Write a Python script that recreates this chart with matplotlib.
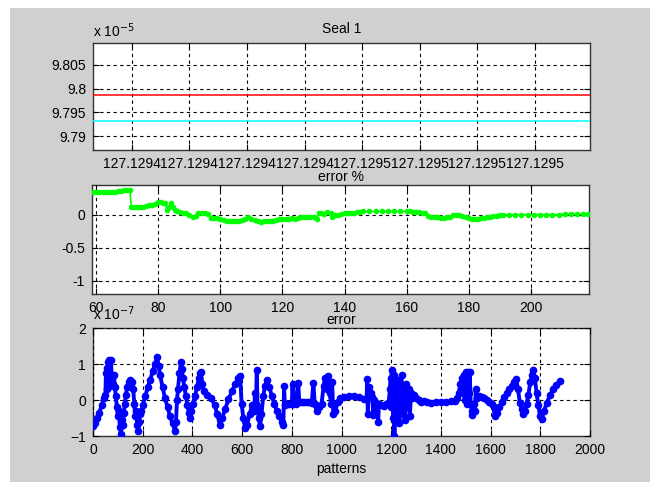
import matplotlib
matplotlib.use("Agg")
import matplotlib.pyplot as plt
from matplotlib.patches import Rectangle
from matplotlib.ticker import FixedLocator, FixedFormatter

plt.rcParams["font.family"] = ["Liberation Sans", "DejaVu Sans"]
plt.rcParams["font.size"] = 10

# --- data -------------------------------------------------------------
# top panel (values in units of 1e-5)
seal_levels = [9.7986, 9.7931]
seal_colors = ["red", "cyan"]
seal_xticks = [127.12941, 127.12942, 127.12943, 127.12944,
               127.12945, 127.12946, 127.12947, 127.12948]
seal_xlabels = ["127.1294", "127.1294", "127.1294", "127.1294",
                "127.1295", "127.1295", "127.1295", "127.1295"]
seal_yticks = [9.79, 9.795, 9.8, 9.805]
seal_ylabels = ["9.79", "9.795", "9.8", "9.805"]

# middle panel: error %
pct_x = [58.8, 60, 61, 62, 63, 64, 65, 66, 67, 68, 69, 70, 70.8,
         71.3, 72, 73, 74, 75, 76, 77, 78, 79, 80, 80.8, 81.6, 82.2,
         82.8, 83.4, 84, 84.6, 85.2, 86, 87, 88, 89, 90, 91, 92, 92.8,
         94, 95, 96, 97, 98, 99, 100, 101, 102, 103, 104, 105, 106,
         107, 108, 109, 110, 111, 112, 113, 114, 115, 116, 117, 118,
         119, 120, 121, 122, 123, 124, 125, 126, 127, 128, 129, 130,
         131, 131.8, 132.5, 133.5, 134.5, 135.5, 136, 137, 138, 139,
         140, 141, 142, 143, 144, 145, 146, 148, 150, 152, 154, 156,
         158, 160, 161, 162, 163, 164, 165, 166, 167, 168, 169, 170,
         171, 172, 173, 174, 175, 176, 177, 178, 179, 180, 181, 182,
         183, 184, 185, 186, 187, 188, 189, 190, 191, 193, 195, 197,
         199, 201, 203, 205, 207, 209, 211, 213, 215, 217, 218.5]
pct_y = [0.35, 0.35, 0.35, 0.35, 0.35, 0.35, 0.35, 0.35, 0.355, 0.36,
         0.37, 0.37, 0.37,
         0.11, 0.11, 0.11, 0.11, 0.115, 0.13, 0.14, 0.15, 0.16, 0.2,
         0.19, 0.18, 0.17,
         0.07, 0.11, 0.18, 0.12, 0.07, 0.05, 0.04, 0.03, 0.02, 0.0,
         -0.03, -0.02, 0.03,
         0.03, 0.03, 0.01, -0.05, -0.05, -0.05, -0.07, -0.08, -0.09,
         -0.1, -0.1, -0.09, -0.09,
         -0.08, -0.07, -0.03, -0.06, -0.08, -0.09, -0.11, -0.09, -0.1,
         -0.09, -0.09, -0.08,
         -0.07, -0.07, -0.06, -0.06, -0.05, -0.06, -0.05, -0.04, -0.04,
         -0.03, -0.03, -0.04,
         -0.06, 0.03, 0.02, 0.01, 0.04, 0.03, -0.04, -0.01, 0.0, 0.01,
         0.02, 0.02, 0.03, 0.03, 0.04, 0.04, 0.05, 0.05, 0.05, 0.05,
         0.05, 0.05,
         0.05, 0.05, 0.06, 0.04, 0.04, 0.04, 0.03, 0.03, -0.02, -0.03,
         -0.03, -0.04,
         -0.05, -0.05, -0.04, -0.03, -0.01, 0.0, -0.01, -0.02, -0.04,
         -0.05, -0.06, -0.06,
         -0.06, -0.05, -0.05, -0.04, -0.03, -0.02, -0.02, -0.01, 0.0,
         0.0, 0.0, 0.0,
         0.0, 0.0, 0.0, 0.0, 0.0, 0.0, 0.01, 0.01, 0.01, 0.01, 0.01]

# bottom panel: error (values in units of 1e-7)
pattern_idx = [0, 8, 16, 25, 35, 45, 50, 52, 55, 58, 62, 66, 68, 72, 76,
               80, 84, 88, 92, 96, 100, 104, 108, 112, 116, 120, 124,
               128, 132, 138, 144, 150, 156, 162, 166, 170, 174, 178,
               182, 186, 190, 195, 200, 210, 220, 230, 240, 250, 258,
               264, 270, 280, 290, 300, 310, 320, 330, 334, 338, 342,
               348, 354, 358, 362, 368, 374, 380, 386, 392, 396, 402,
               410, 418, 426, 430, 434, 440, 445, 460, 475, 490, 500,
               511, 520, 532, 545, 560, 572, 585, 592, 598, 605, 612,
               620, 630, 640, 648, 652, 656, 659, 662, 667, 672, 678,
               685, 692, 700, 710, 720, 730, 740, 750, 760, 766, 769,
               772, 780, 790, 800, 803, 806, 815, 826, 830, 840, 850,
               860, 870, 880, 887, 892, 900, 910, 920, 928, 934, 940,
               947, 952, 958, 962, 967, 975, 985, 995, 1010, 1030, 1050,
               1070, 1090, 1101, 1103, 1106, 1110, 1118, 1124, 1128,
               1132, 1140, 1148, 1150, 1160, 1170, 1180, 1190, 1195,
               1198, 1200, 1202, 1205, 1208, 1210, 1213, 1216, 1220,
               1224, 1228, 1233, 1236, 1242, 1246, 1250, 1256, 1260,
               1265, 1270, 1275, 1280, 1285, 1290, 1300, 1310, 1320,
               1330, 1343, 1360, 1380, 1400, 1420, 1440, 1455, 1465,
               1472, 1478, 1484, 1488, 1492, 1496, 1500, 1504, 1508,
               1512, 1516, 1520, 1524, 1527, 1532, 1536, 1541, 1545,
               1555, 1565, 1575, 1585, 1595, 1605, 1612, 1616, 1625,
               1635, 1645, 1655, 1665, 1675, 1685, 1695, 1703, 1710,
               1718, 1725, 1732, 1738, 1745, 1752, 1760, 1766, 1772,
               1778, 1785, 1792, 1799, 1806, 1815, 1826, 1840, 1852,
               1865, 1879]
pattern_err = [-0.72, -0.65, -0.5, -0.35, -0.15, 0.05, 0.15, 0.75, 0.3,
               0.9, 1.05, 1.1, 0.4, 1.1, 0.6,
               0.45, 0.7, 0.35, 0.1, -0.2, -0.45, -0.3, -0.75, -0.95,
               -0.55, -0.7, -0.35,
               -0.1, 0.15, 0.35, 0.5, 0.55, 0.5, 0.3, -0.1, -0.45, -0.3,
               -0.7,
               -0.85, -0.6, -0.4, -0.3, -0.15, 0.1, 0.35, 0.55, 0.8, 1.0,
               1.2,
               0.95, 0.7, 0.35, 0.05, -0.2, -0.45, -0.65, -0.85, -0.6,
               0.0, 0.3,
               0.75, 1.05, 0.85, 0.6, 0.35, 0.1, -0.15, -0.35, -0.5,
               -0.3, -0.1,
               0.1, 0.35, 0.6, 0.75, 0.78, 0.45, 0.25, 0.15, 0.05, -0.15,
               -0.4,
               -0.7, -0.5, -0.25, 0.02, 0.25, 0.45, 0.6, 0.68, -0.1,
               -0.5, -0.78,
               -0.7, -0.4, -0.15, -0.3, 0.2, -0.1, 0.82, -0.2, -0.5,
               -0.73, -0.4,
               0.1, 0.4, 0.55, 0.35, 0.1, -0.1, -0.3, -0.45, -0.62, -0.7,
               0.4,
               -0.15, -0.12, -0.1, -0.12, 0.45, -0.1, -0.1, 0.48, -0.05,
               -0.05, -0.05,
               -0.05, -0.05, -0.08, 0.48, -0.1, -0.3, -0.2, -0.1, 0.4,
               0.62, 0.3,
               0.68, 0.2, -0.1, 0.5, -0.4, -0.3, -0.05, 0.05, 0.08, 0.1,
               0.1,
               0.08, 0.03, 0.02, 0.58, -0.38, 0.35, 0.2, 0.08, -0.42,
               0.0, -0.08, -0.6, -0.1, -0.15, -0.17, -0.12, -0.05, 0.3,
               0.6, -0.2, 0.82, 0.1, -0.5, 0.7, -1.0, 0.3, -0.6,
               0.2, 0.55, -0.65, 0.35, 0.7, -0.4, 0.3, -0.55, 0.45,
               -0.2, 0.3, -0.45, 0.2, 0.05, 0.15, 0.05, 0.0, -0.05,
               -0.03, -0.06, -0.08, -0.05, -0.05, -0.05, -0.03, -0.02,
               0.05,
               0.2, 0.45, 0.6, 0.2, 0.7, 0.0, 0.78, -0.1, 0.78,
               0.2, 0.78, -0.1, -0.3, -0.42, -0.1, -0.3, 0.3, 0.05,
               0.1, 0.08, 0.05, 0.0, -0.05, -0.12, -0.2, -0.45, -0.35,
               -0.2, -0.05, 0.08, 0.2, 0.3, 0.4, 0.5, 0.59, 0.3,
               -0.08, -0.25, -0.38, -0.3, -0.1, 0.15, 0.5, 0.7, 0.83,
               0.6, 0.2, -0.15, -0.45, -0.53, -0.3, -0.08, 0.15, 0.3,
               0.42, 0.54]
pattern_xticks = [0, 200, 400, 600, 800, 1000, 1200, 1400, 1600, 1800, 2000]
pct_xticks = [60, 80, 100, 120, 140, 160, 180, 200]
pct_yticks = [-1, -0.5, 0]
err_yticks = [-1, 0, 1, 2]

# --- figure -----------------------------------------------------------
fig = plt.figure(figsize=(6.5, 4.82), dpi=100, facecolor="white")
fig.patches.append(Rectangle((10 / 650, 0), 1, 1 - 8 / 482,
                             transform=fig.transFigure,
                             facecolor="#d0d0d0", edgecolor="none", zorder=-10))


def matlab_style(ax):
    ax.set_facecolor("white")
    ax.grid(True, color="black", linestyle=(0, (3, 3)), linewidth=0.8)
    ax.set_axisbelow(False)
    ax.tick_params(direction="in", length=4, top=True, right=True,
                   labelsize=10, colors="black", pad=5)
    for sp in ax.spines.values():
        sp.set_color("#333333")
        sp.set_linewidth(1.0)


# top: Seal 1
ax1 = fig.add_axes([93 / 650, 1 - 150 / 482, 497 / 650, 107 / 482])
matlab_style(ax1)
for lvl, col in zip(seal_levels, seal_colors):
    ax1.axhline(lvl, color=col, linewidth=1.1, zorder=3)
d = seal_xticks[1] - seal_xticks[0]
ax1.set_xlim(seal_xticks[0] - 0.672 * d, seal_xticks[-1] + 0.955 * d)
ax1.set_ylim(9.7871, 9.8096)
ax1.xaxis.set_major_locator(FixedLocator(seal_xticks))
ax1.xaxis.set_major_formatter(FixedFormatter(seal_xlabels))
ax1.yaxis.set_major_locator(FixedLocator(seal_yticks))
ax1.yaxis.set_major_formatter(FixedFormatter(seal_ylabels))
ax1.set_title("Seal 1", fontsize=10, pad=7)
fig.text(93 / 650, 1 - 37 / 482, r"x 10$^{-5}$", fontsize=10)

# middle: error %
ax2 = fig.add_axes([92 / 650, 1 - 294 / 482, 497 / 650, 109 / 482])
matlab_style(ax2)
ax2.plot(pct_x, pct_y, ".-", color=(0, 1, 0), linewidth=1.2, markersize=6,
         zorder=3)
ax2.set_xlim(58.6, 218.8)
ax2.set_ylim(-1.2, 0.45)
ax2.set_xticks(pct_xticks)
ax2.set_yticks(pct_yticks)
ax2.set_yticklabels(["-1", "-0.5", "0"])
ax2.set_title("error %", fontsize=10, pad=3)

# bottom: error
ax3 = fig.add_axes([93 / 650, 1 - 436 / 482, 497 / 650, 108 / 482])
matlab_style(ax3)
ax3.plot(pattern_idx, pattern_err, "o-", color=(0, 0, 1), linewidth=2.8,
         markersize=4.5, zorder=3)
ax3.set_xlim(0, 2000)
ax3.set_ylim(-1, 2)
ax3.set_xticks(pattern_xticks)
ax3.set_yticks(err_yticks)
ax3.set_title("error", fontsize=10, pad=3)
ax3.set_xlabel("patterns", fontsize=10, labelpad=4)
fig.text(93 / 650, 1 - 320 / 482, r"x 10$^{-7}$", fontsize=10)

fig.savefig("out.png", dpi=100, facecolor=fig.get_facecolor())
